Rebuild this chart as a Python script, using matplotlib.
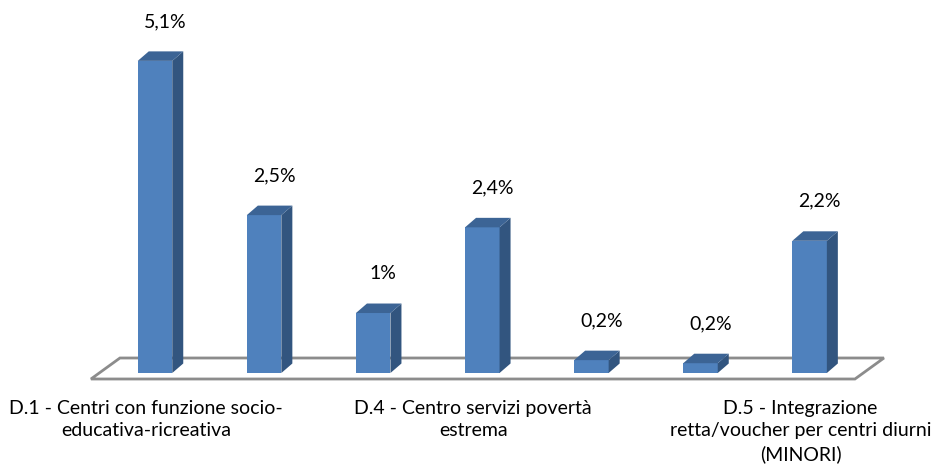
import matplotlib
matplotlib.use("Agg")
import matplotlib.pyplot as plt
from matplotlib.patches import Polygon

plt.rcParams['font.family'] = ['Lato', 'DejaVu Sans']

# ---- data ----
categories = [
    "D.1 - Centri con funzione socio-\neducativa-ricreativa",
    "",
    "",
    "D.4 - Centro servizi povertà\nestrema",
    "",
    "",
    "D.5 - Integrazione\nretta/voucher per centri diurni\n(MINORI)",
]
values = [5.1, 2.58, 0.98, 2.38, 0.21, 0.16, 2.16]
value_labels = ["5,1%", "2,5%", "1%", "2,4%", "0,2%", "0,2%", "2,2%"]

# ---- layout (pixel based) ----
W, H, DPI = 936, 469, 100
PX_X = 109.1      # pixels per category
X0 = 155.0        # pixel x of first category centre
PX_Y = 61.2       # pixels per percentage point
Y0 = 373.0        # pixel y (from top) of value 0

def dx(px):
    return px / PX_X

def dy(px):
    return px / PX_Y

front = "#4F81BD"
side = "#32557F"
top = "#3C6495"
floor_c = "#8C8C8C"

fig = plt.figure(figsize=(W / DPI, H / DPI), dpi=DPI)
ax = fig.add_axes([0, 0, 1, 1])
ax.set_xlim(-X0 / PX_X, (W - X0) / PX_X)
ax.set_ylim(-(H - Y0) / PX_Y, Y0 / PX_Y)
ax.axis("off")

n = len(values)
xs = list(range(n))
bw = dx(34.5)
ddx, ddy = dx(11), dy(9.5)

# floor (parallelogram)
fl_left, fl_right = -0.5 - dx(9.5), n - 1 + 0.5 - dx(9.2)
fl_front, fl_back = dy(-6), dy(15)
floor = Polygon([(fl_left, fl_front), (fl_left + dx(29), fl_back),
                 (fl_right + dx(29), fl_back), (fl_right, fl_front)],
                closed=True, facecolor="white", edgecolor=floor_c,
                linewidth=2.0, zorder=1)
ax.add_patch(floor)

# bars (front faces)
ax.bar(xs, values, width=bw, color=front, zorder=3, linewidth=0)
for x, v in zip(xs, values):
    r = x + bw / 2
    l = x - bw / 2
    ax.add_patch(Polygon([(r, 0), (r + ddx, ddy), (r + ddx, v + ddy), (r, v)],
                         closed=True, facecolor=side, edgecolor="none", zorder=3))
    ax.add_patch(Polygon([(l, v), (l + ddx, v + ddy), (r + ddx, v + ddy), (r, v)],
                         closed=True, facecolor=top, edgecolor="none", zorder=3))

# value labels
for x, v, lab in zip(xs, values, value_labels):
    ax.text(x + dx(10), v + ddy + dy(30), lab, ha="center", va="center",
            fontsize=14, color="black")

# category labels
for x, lab in zip(xs, categories):
    if lab:
        ax.text(x + dx(-9), dy(-27), lab, ha="center", va="top",
                fontsize=14, color="black", linespacing=1.38)

fig.savefig("out.png", dpi=DPI)
